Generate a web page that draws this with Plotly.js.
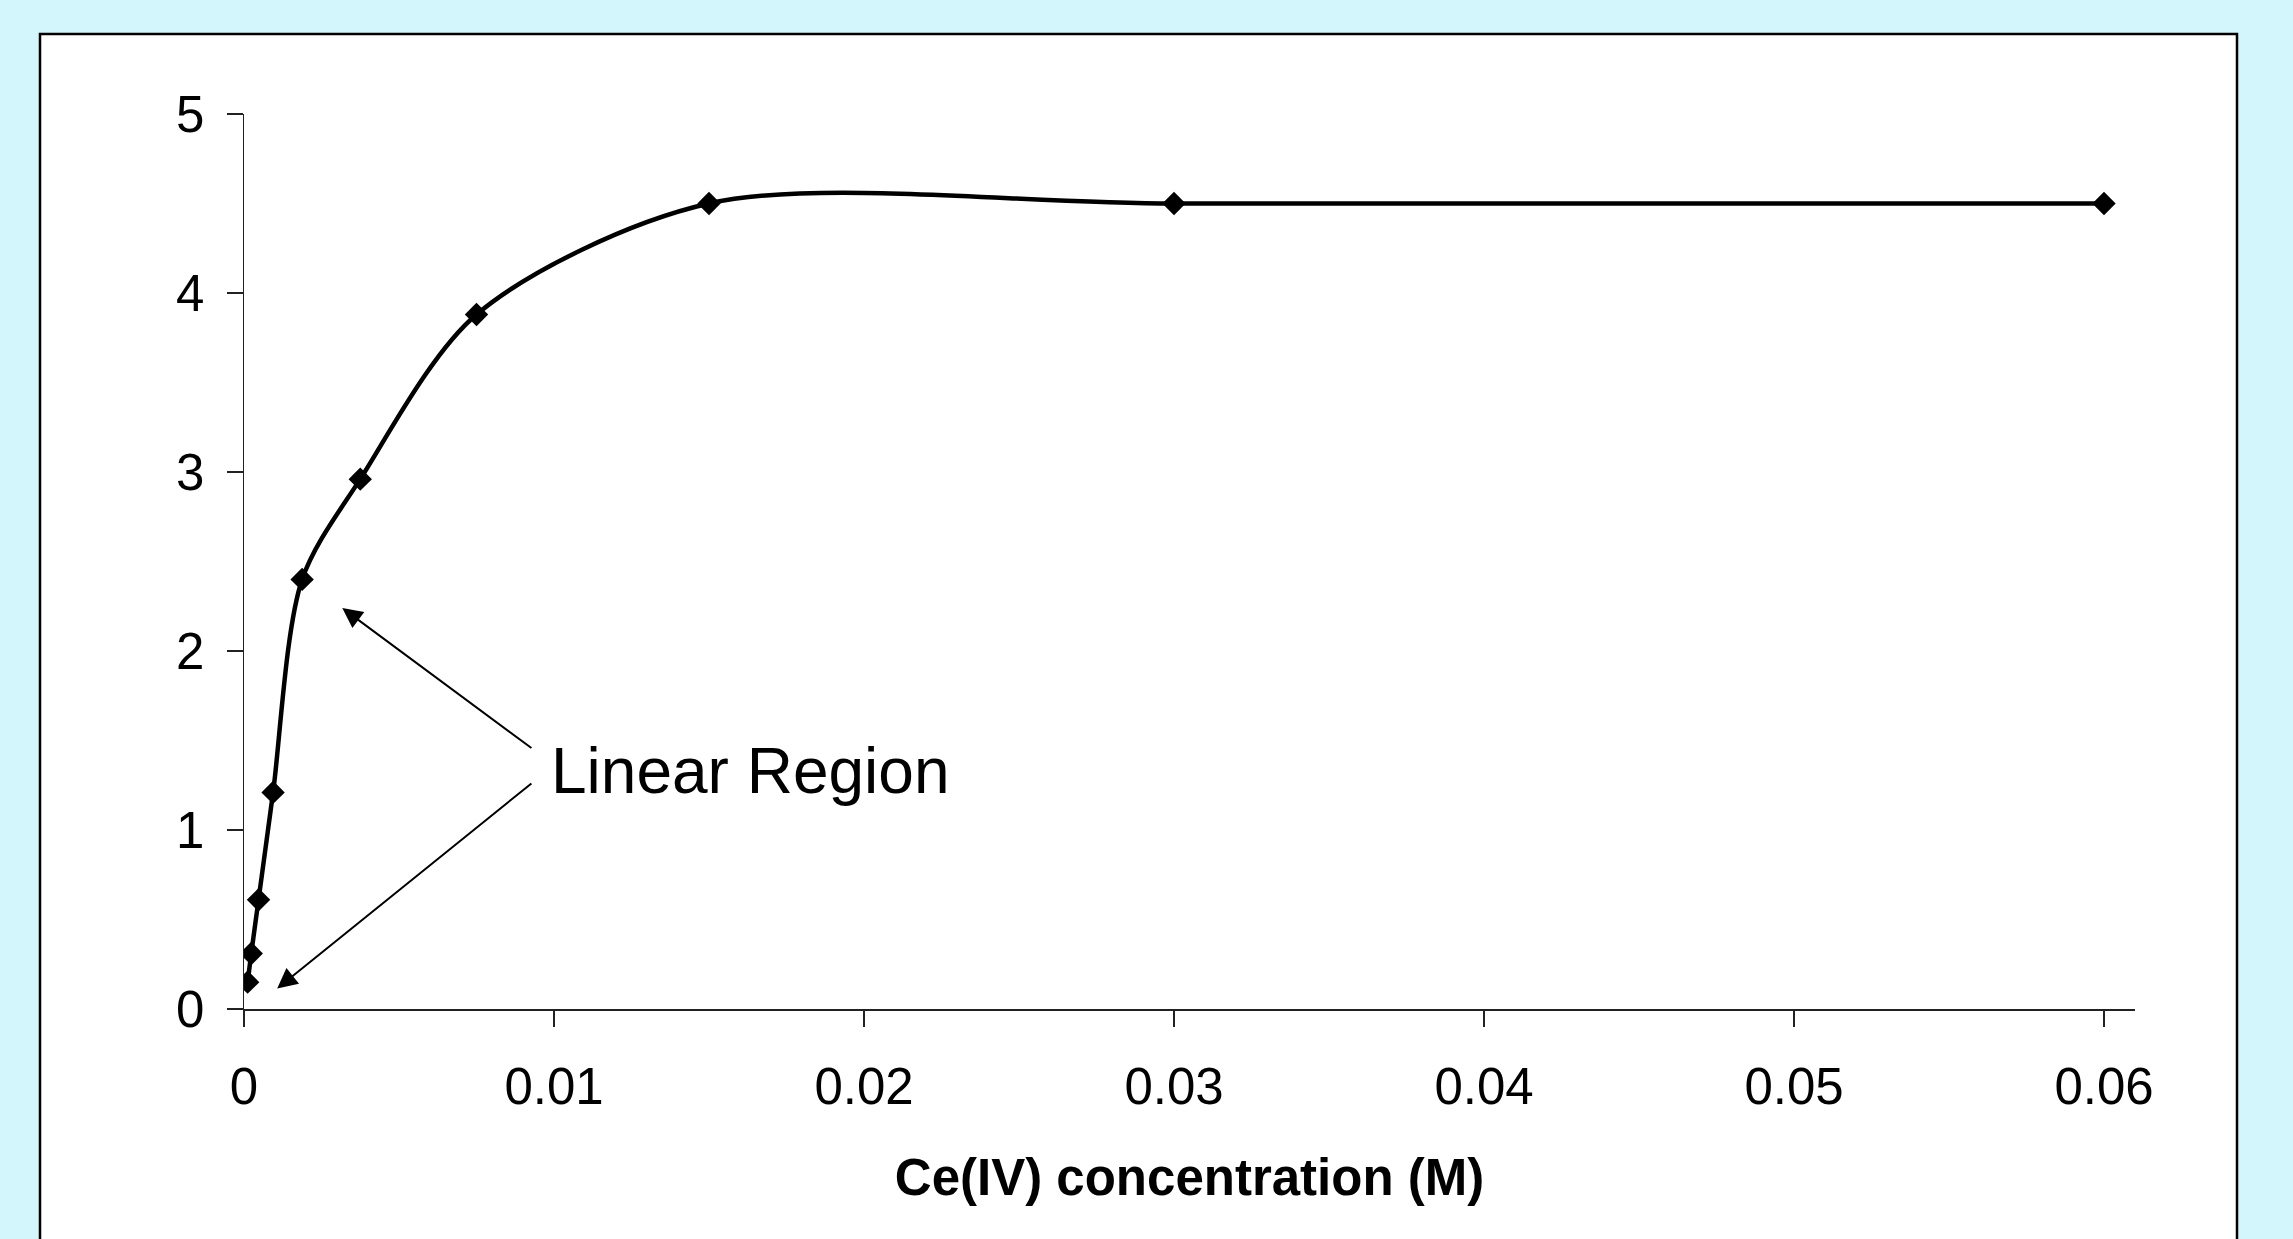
<!DOCTYPE html>
<html>
<head>
<meta charset="utf-8">
<script src="https://cdn.plot.ly/plotly-3.0.1.min.js"></script>
<style>
  html, body { margin: 0; padding: 0; background: #D3F6FD; }
  #chart { width: 2293px; height: 1239px; }
</style>
</head>
<body>
<div id="chart"></div>
<script>
// Data
const concentration = [0.000117, 0.000234, 0.000469, 0.000938, 0.001875, 0.00375, 0.0075, 0.015, 0.03, 0.06];
const signal        = [0.15, 0.31, 0.61, 1.21, 2.40, 2.96, 3.88, 4.50, 4.50, 4.50];
const xTickVals   = [0, 0.01, 0.02, 0.03, 0.04, 0.05, 0.06];
const xTickLabels = ['0', '0.01', '0.02', '0.03', '0.04', '0.05', '0.06'];
const yTickVals   = [0, 1, 2, 3, 4, 5];
const yTickLabels = ['0', '1', '2', '3', '4', '5'];
const xTitle = 'Ce(IV) concentration (M)';
const noteText = 'Linear Region';
// arrow heads (data coords) and tails (data coords)
const arrowHeads = [[0.00317, 2.24], [0.00107, 0.115]];
const arrowTails = [[0.00932, 1.452], [0.00932, 1.267]];

const W = 2293, H = 1239;
const M = {l: 244, r: 158, t: 114, b: 230};
const pw = W - M.l - M.r, ph = H - M.t - M.b;
const px = v => (v - M.l) / pw;
const py = v => (H - M.b - v) / ph;

const trace = {
  x: concentration, y: signal,
  type: 'scatter', mode: 'lines+markers',
  line: {color: '#000000', width: 4.5, shape: 'spline', smoothing: 0.85},
  marker: {symbol: 'diamond', size: 18, color: '#000000'},
  hoverinfo: 'skip', showlegend: false
};

const annotations = [{
  x: 0.00985, y: 1.33, xref: 'x', yref: 'y',
  text: noteText, showarrow: false, xanchor: 'left', yanchor: 'middle',
  font: {family: 'Liberation Sans, Arial, sans-serif', size: 64, color: '#000'}
}];
arrowHeads.forEach((h, i) => {
  annotations.push({
    x: h[0], y: h[1], xref: 'x', yref: 'y',
    ax: arrowTails[i][0], ay: arrowTails[i][1], axref: 'x', ayref: 'y',
    text: '', showarrow: true, arrowhead: 2, arrowsize: 2, arrowwidth: 2,
    arrowcolor: '#000', standoff: 0, startstandoff: 0
  });
});

const layout = {
  width: W, height: H,
  margin: {l: M.l, r: M.r, t: M.t, b: M.b, pad: 0},
  paper_bgcolor: '#D3F6FD', plot_bgcolor: 'rgba(0,0,0,0)',
  font: {family: 'Liberation Sans, Arial, sans-serif', color: '#000'},
  showlegend: false,
  xaxis: {
    range: [0, 0.061], tickvals: xTickVals, ticktext: xTickLabels,
    showgrid: false, zeroline: false, showline: true, linecolor: '#222', linewidth: 1.5,
    ticks: 'outside', ticklen: 16, tickwidth: 1.5, tickcolor: '#222',
    tickfont: {size: 51, color: '#000'}, ticklabelstandoff: 16,
    title: {text: '<b>' + xTitle + '</b>', font: {size: 51, color: '#000'}, standoff: 45},
    automargin: false, fixedrange: true
  },
  yaxis: {
    range: [0, 5], tickvals: yTickVals, ticktext: yTickLabels,
    showgrid: false, zeroline: false, showline: true, linecolor: '#222', linewidth: 1.5,
    ticks: 'outside', ticklen: 16, tickwidth: 1.5, tickcolor: '#222',
    tickfont: {size: 51, color: '#000'}, ticklabelstandoff: 12,
    automargin: false, fixedrange: true
  },
  shapes: [{
    type: 'rect', xref: 'paper', yref: 'paper', layer: 'below',
    x0: px(40), x1: px(2237), y0: py(1250), y1: py(34),
    fillcolor: '#FFFFFF', line: {color: '#000', width: 2.5}
  }],
  annotations: annotations
};

Plotly.newPlot('chart', [trace], layout, {staticPlot: true, displayModeBar: false});
</script>
</body>
</html>
